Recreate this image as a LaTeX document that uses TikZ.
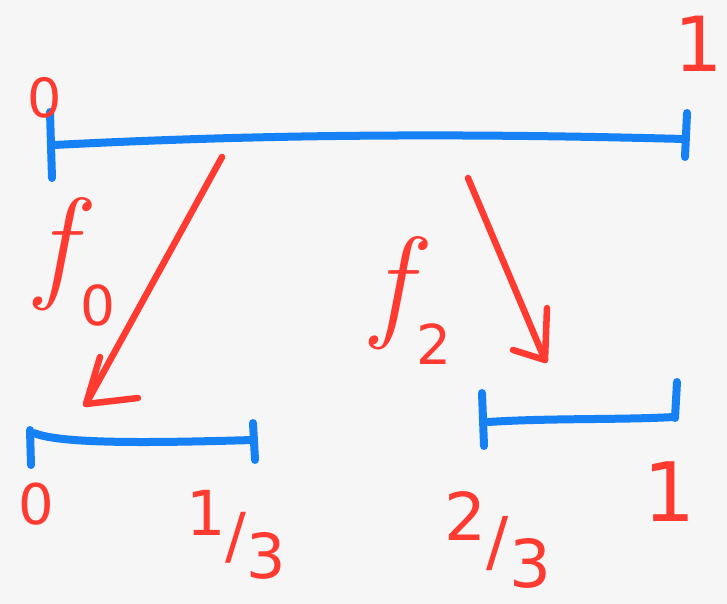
\documentclass[tikz,border=0pt]{standalone}
\usepackage{fontspec}
\setmainfont{DejaVu Sans}
\newfontfamily\itfont{Latin Modern Roman}
\definecolor{myred}{RGB}{255,58,48}
\definecolor{myblue}{RGB}{22,128,245}
\definecolor{paper}{RGB}{246,246,246}
\tikzset{
  seg/.style={draw=myblue, line width=8pt, line cap=round, line join=round},
  arr/.style={draw=myred, line width=6.5pt, line cap=round, line join=round},
  lbl/.style={text=myred, inner sep=0pt},
}
\newcommand{\myfrac}[2]{\raisebox{0.35em}{#1}/\raisebox{-0.35em}{#2}}
\newcommand{\fsub}[1]{{\itfont\itshape f}\kern0.05em\raisebox{-0.32em}{\fontsize{55}{55}\selectfont #1}}
\begin{document}
\begin{tikzpicture}[x=1pt,y=-1pt]
\fill[paper] (0,0) rectangle (727,604);
\useasboundingbox (0,0) rectangle (727,604);
% top segment [0,1]
\coordinate (TL) at (54,145);
\coordinate (TR) at (684,139);
\draw[seg] (50,112) -- (52,178);
\draw[seg] (TL) .. controls (230,136) and (420,132) .. (TR);
\draw[seg] (687,113) -- (685,157);
\node[lbl, font=\fontsize{54}{54}\selectfont] (t0) at (45,98) {0};
\node[lbl, font=\fontsize{76}{76}\selectfont] (t1) at (699,44) {1};
% bottom left segment [0,1/3]
\coordinate (LL) at (34,433);
\coordinate (LR) at (253,440);
\draw[seg] (30,430) -- (31,465);
\draw[seg] (LL) .. controls (60,444) and (150,443) .. (LR);
\draw[seg] (253,423) -- (255,460);
\node[lbl, font=\fontsize{56}{56}\selectfont] (b0) at (36,504) {0};
\node[lbl, font=\fontsize{62}{62}\selectfont] (b13) at (236,535) {\myfrac{1}{3}};
% bottom right segment [2/3,1]
\coordinate (RL) at (488,422);
\coordinate (RR) at (674,417);
\draw[seg] (482,393) -- (484,446);
\draw[seg] (RL) .. controls (550,418) and (620,420) .. (RR);
\draw[seg] (677,382) -- (675,418);
\node[lbl, font=\fontsize{66}{66}\selectfont] (b23) at (498,540) {\myfrac{2}{3}};
\node[lbl, font=\fontsize{82}{82}\selectfont] (b1) at (670,492) {1};
% arrow f0
\coordinate (f0s) at (222,157);
\coordinate (f0e) at (86,404);
\coordinate (f0a) at (100,357);
\coordinate (f0b) at (138,398);
\draw[arr] (f0s) -- (f0e);
\draw[arr] (f0a) -- (f0e) -- (f0b);
\node[lbl, font=\fontsize{125}{125}\selectfont] (lf0) at (76,262) {\fsub{0}};
% arrow f2
\coordinate (f2s) at (468,178);
\coordinate (f2e) at (545,360);
\coordinate (f2a) at (513,350);
\coordinate (f2b) at (547,308);
\draw[arr] (f2s) -- (f2e);
\draw[arr] (f2a) -- (f2e) -- (f2b);
\node[lbl, font=\fontsize{125}{125}\selectfont] (lf2) at (412,300) {\fsub{2}};
\end{tikzpicture}
\end{document}
